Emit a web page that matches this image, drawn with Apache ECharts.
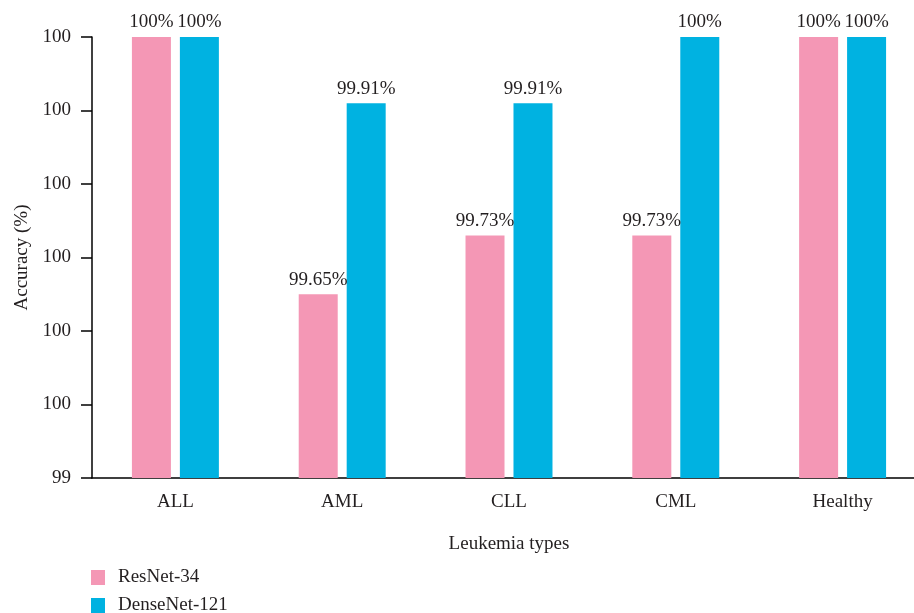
<!DOCTYPE html>
<html>
<head>
<meta charset="utf-8">
<script src="https://cdn.jsdelivr.net/npm/echarts@6/dist/echarts.min.js"></script>
<style>
  html, body { margin: 0; padding: 0; background: #fff; }
  #chart { width: 914px; height: 613px; }
</style>
</head>
<body>
<div id="chart"></div>
<script>
// Leukemia classification accuracy per model
const categories = ['ALL', 'AML', 'CLL', 'CML', 'Healthy'];
const resnet34 = [100, 99.65, 99.73, 99.73, 100];
const densenet121 = [100, 99.91, 99.91, 100, 100];
const seriesNames = ['ResNet-34', 'DenseNet-121'];

const FONT = '"Liberation Serif", "DejaVu Serif", serif';
const TEXT = '#231f20';

function pctLabel(v) {
  const s = Number.isInteger(v) ? String(v) : v.toFixed(2);
  return s + '%';
}

// one legend row per series, stacked below the x-axis title
function legendRow(name, top) {
  return {
    left: 91,
    top: top,
    padding: 0,
    itemWidth: 14,
    itemHeight: 15,
    icon: 'rect',
    textStyle: { fontFamily: FONT, fontSize: 19, color: TEXT, padding: [2, 0, 0, 8] },
    data: [name]
  };
}

const chart = echarts.init(document.getElementById('chart'));
chart.setOption({
  animation: false,
  textStyle: { fontFamily: FONT, color: TEXT },
  grid: { left: 92, right: -12, top: 37, bottom: 135, containLabel: false, outerBoundsMode: 'none' },
  legend: [legendRow(seriesNames[0], 568), legendRow(seriesNames[1], 596)],
  xAxis: {
    type: 'category',
    data: categories,
    name: 'Leukemia types',
    nameLocation: 'middle',
    nameGap: 57,
    nameTextStyle: { fontFamily: FONT, fontSize: 19, color: TEXT },
    axisLine: { lineStyle: { color: '#000', width: 1.5 } },
    axisTick: { alignWithLabel: true, length: 7, lineStyle: { color: '#000', width: 1.5 } },
    axisLabel: { fontFamily: FONT, fontSize: 19, color: TEXT, margin: 15 }
  },
  yAxis: {
    type: 'value',
    min: 99.4,
    max: 100,
    interval: 0.1,
    name: 'Accuracy (%)',
    nameLocation: 'middle',
    nameGap: 60,
    nameTextStyle: { fontFamily: FONT, fontSize: 19, color: TEXT },
    splitLine: { show: false },
    axisLine: { show: true, lineStyle: { color: '#000', width: 1.5 } },
    axisTick: { show: true, length: 11, lineStyle: { color: '#000', width: 1.5 } },
    axisLabel: {
      fontFamily: FONT, fontSize: 19, color: TEXT, margin: 21,
      formatter: v => String(Math.round(v + 1e-9))
    }
  },
  series: [
    {
      name: seriesNames[0],
      type: 'bar',
      data: resnet34,
      barWidth: 39,
      barGap: '23%',
      itemStyle: { color: '#f497b5' },
      label: {
        show: true, position: 'top', distance: 5,
        fontFamily: FONT, fontSize: 19, color: TEXT,
        formatter: p => pctLabel(p.value)
      }
    },
    {
      name: seriesNames[1],
      type: 'bar',
      data: densenet121,
      barWidth: 39,
      itemStyle: { color: '#00b2e1' },
      label: {
        show: true, position: 'top', distance: 5,
        fontFamily: FONT, fontSize: 19, color: TEXT,
        formatter: p => pctLabel(p.value)
      }
    }
  ]
});
</script>
</body>
</html>
